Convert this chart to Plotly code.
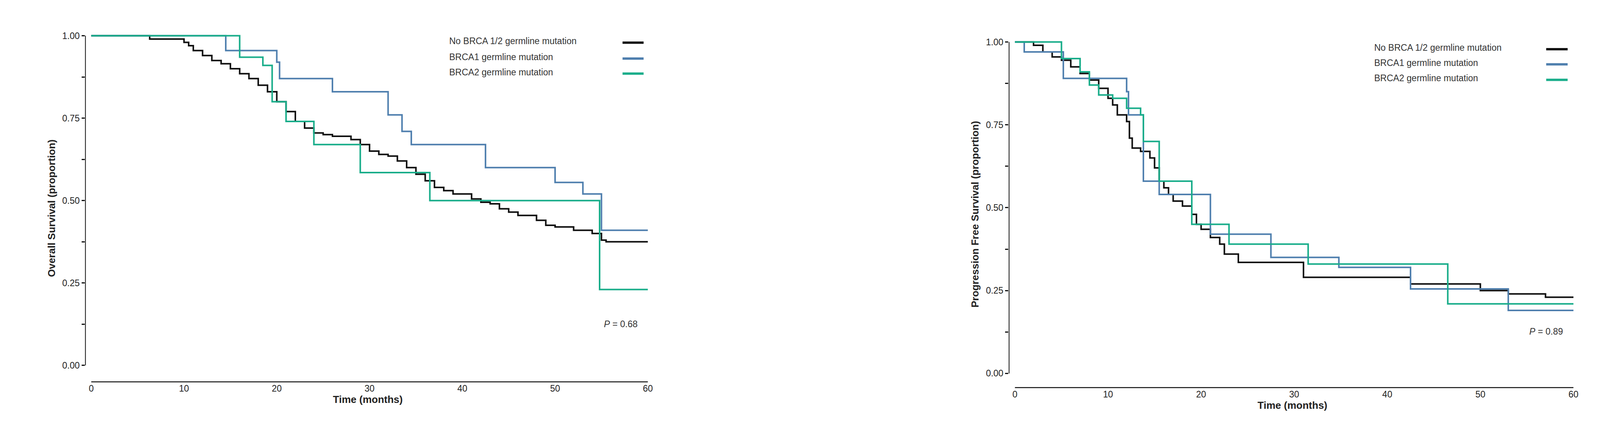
import plotly.graph_objects as go

# Overall survival (left)
os_no_x = [0, 6.3, 10, 10.5, 11, 12, 13, 14, 15, 16, 17, 18, 19, 20, 21, 22, 23, 24, 25, 26, 28, 29, 30, 31, 32, 33, 34, 35, 36, 37, 38, 39, 41, 42, 43, 44, 45, 46, 48, 49, 50, 52, 54, 55, 55.5, 60]
os_no_y = [1.0, 0.99, 0.98, 0.97, 0.955, 0.94, 0.925, 0.915, 0.90, 0.885, 0.87, 0.85, 0.83, 0.80, 0.77, 0.74, 0.72, 0.705, 0.70, 0.695, 0.685, 0.67, 0.65, 0.64, 0.635, 0.62, 0.60, 0.58, 0.56, 0.54, 0.53, 0.52, 0.505, 0.495, 0.49, 0.475, 0.465, 0.455, 0.44, 0.425, 0.42, 0.41, 0.40, 0.38, 0.375, 0.375]
os_b1_x = [0, 14.5, 20, 20.3, 26, 32, 33.5, 34.5, 42.5, 50, 53, 55, 60]
os_b1_y = [1.0, 0.955, 0.92, 0.87, 0.83, 0.76, 0.71, 0.67, 0.60, 0.555, 0.52, 0.41, 0.41]
os_b2_x = [0, 16, 18.5, 19.5, 21, 24, 29, 36.5, 54.8, 60]
os_b2_y = [1.0, 0.935, 0.91, 0.80, 0.74, 0.67, 0.585, 0.50, 0.23, 0.23]

# Progression free survival (right)
pfs_no_x = [0, 1, 2, 3, 4, 5, 6, 7, 8, 9, 10, 10.5, 11, 12, 12.3, 12.6, 13.5, 14.5, 15, 15.5, 16, 16.5, 17, 18, 19, 19.5, 20, 21, 22, 22.5, 24, 31, 42.5, 50, 53, 57, 60]
pfs_no_y = [1.0, 1.0, 0.99, 0.97, 0.955, 0.945, 0.925, 0.905, 0.885, 0.86, 0.83, 0.81, 0.78, 0.76, 0.71, 0.68, 0.67, 0.65, 0.62, 0.58, 0.56, 0.54, 0.52, 0.505, 0.48, 0.45, 0.435, 0.41, 0.39, 0.36, 0.335, 0.29, 0.27, 0.25, 0.24, 0.23, 0.23]
pfs_b1_x = [0, 1, 5.2, 12, 12.2, 13.8, 15.5, 21, 27.5, 34.8, 42.5, 53, 60]
pfs_b1_y = [1.0, 0.97, 0.89, 0.85, 0.78, 0.58, 0.54, 0.42, 0.35, 0.32, 0.255, 0.19, 0.19]
pfs_b2_x = [0, 5, 7, 8, 9, 10.5, 12, 13.5, 13.8, 15.5, 19, 23, 31.5, 46.5, 60]
pfs_b2_y = [1.0, 0.95, 0.91, 0.87, 0.84, 0.83, 0.80, 0.78, 0.70, 0.58, 0.45, 0.39, 0.33, 0.21, 0.21]

legend_names = ["No BRCA 1/2 germline mutation", "BRCA1 germline mutation", "BRCA2 germline mutation"]
colors = ["#111111", "#4f7fae", "#19ad8a"]
x_ticks = [0, 10, 20, 30, 40, 50, 60]
y_tickvals = [0, 0.125, 0.25, 0.375, 0.5, 0.625, 0.75, 0.875, 1.0]
y_ticktext = ["0.00", "", "0.25", "", "0.50", "", "0.75", "", "1.00"]
p_values = ["0.68", "0.89"]

fig = go.Figure()
panels = [
    ("x", "y", [(os_no_x, os_no_y), (os_b1_x, os_b1_y), (os_b2_x, os_b2_y)]),
    ("x2", "y2", [(pfs_no_x, pfs_no_y), (pfs_b1_x, pfs_b1_y), (pfs_b2_x, pfs_b2_y)]),
]
for xa, ya, series in panels:
    for (xs, ys), c, n in zip(series, colors, legend_names):
        fig.add_trace(go.Scatter(x=xs, y=ys, mode="lines", line=dict(color=c, width=4, shape="hv"),
                                 name=n, xaxis=xa, yaxis=ya, showlegend=False))

tickfont = dict(family="Liberation Sans Narrow, Liberation Sans", size=23, color="#222")
titlefont = dict(family="Liberation Sans Narrow, Liberation Sans", size=26, color="#222")
common_x = dict(range=[-0.67, 60.3], tickvals=x_ticks, showgrid=False, zeroline=False, showline=False,
                ticks="", tickfont=tickfont, title=dict(text="<b>Time (months)</b>", font=titlefont, standoff=4))
common_y = dict(tickvals=y_tickvals, ticktext=y_ticktext, showgrid=False, zeroline=False, showline=False,
                ticks="outside", ticklen=8, tickwidth=3, tickcolor="#111", tickfont=tickfont)

fig.update_layout(
    width=4125, height=1109, margin=dict(l=0, r=0, t=0, b=0),
    paper_bgcolor="white", plot_bgcolor="white",
    xaxis=dict(domain=[210/4125, 1660/4125], anchor="y", **common_x),
    yaxis=dict(domain=[0.1253, 0.936], range=[-0.0515, 1.005], anchor="x",
               title=dict(text="<b>Overall Survival (proportion)</b>", font=titlefont, standoff=10), **common_y),
    xaxis2=dict(domain=[2578/4125, 4033/4125], anchor="y2", **common_x),
    yaxis2=dict(domain=[0.1118, 0.9216], range=[-0.0443, 1.005], anchor="x2",
                title=dict(text="<b>Progression Free Survival (proportion)</b>", font=titlefont, standoff=10), **common_y),
)

# axis lines
for xa, ya, ylo in [("x", "y", -0.0515), ("x2", "y2", -0.0443)]:
    fig.add_shape(type="line", xref=xa, yref=ya, x0=-0.67, x1=-0.67, y0=0, y1=1.0, line=dict(color="#111", width=4))
    fig.add_shape(type="line", xref=xa, yref=ya, x0=0, x1=60, y0=ylo, y1=ylo, line=dict(color="#111", width=5))

# custom legends
legend_font = dict(family="Liberation Sans Narrow, Liberation Sans", size=23, color="#333")
for tx, lx0, lx1, rows in [(1142, 1588, 1642, [89, 130, 169]), (3513, 3956, 4011, [106, 145, 185])]:
    for n, c, ry in zip(legend_names, colors, rows):
        fig.add_annotation(xref="paper", yref="paper", x=tx/4125, y=1-ry/1109, text=n, showarrow=False,
                           xanchor="left", yanchor="middle", font=legend_font)
        fig.add_shape(type="line", xref="paper", yref="paper", x0=lx0/4125, x1=lx1/4125,
                      y0=1-(ry+4)/1109, y1=1-(ry+4)/1109, line=dict(color=c, width=6))

for (px, py), val in zip([(1628, 820), (4001, 839)], p_values):
    fig.add_annotation(xref="paper", yref="paper", x=px/4125, y=1-py/1109, text="<i>P</i> = " + val,
                       showarrow=False, xanchor="right", yanchor="middle", font=legend_font)

fig.write_html("out.html")
